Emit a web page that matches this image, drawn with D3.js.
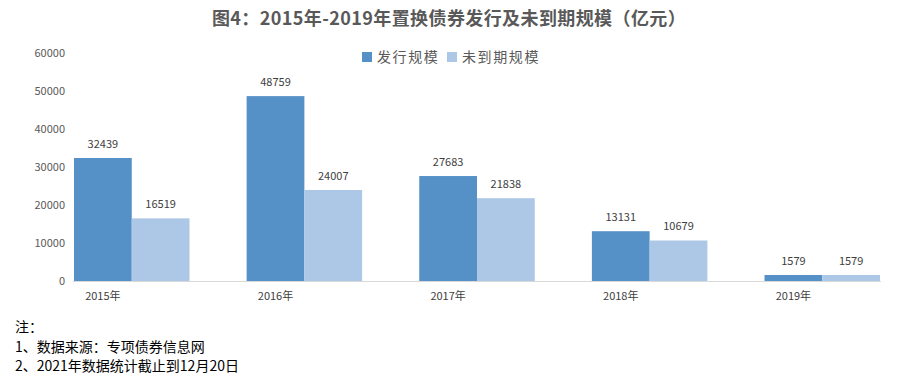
<!DOCTYPE html>
<html><head><meta charset="utf-8">
<script src="https://cdn.jsdelivr.net/npm/d3@7"></script>
<style>body{margin:0;background:#fff}svg{display:block}</style>
</head><body><div id="chart"></div>
<script>
const categories = ["2015年","2016年","2017年","2018年","2019年"];
const issued = [32439, 48759, 27683, 13131, 1579];
const outstanding = [16519, 24007, 21838, 10679, 1579];
const seriesNames = ["发行规模","未到期规模"];
const yTicks = [0,10000,20000,30000,40000,50000,60000];
const title = "图4：2015年-2019年置换债券发行及未到期规模（亿元）";
const notes = ["注：","1、数据来源：专项债券信息网","2、2021年数据统计截止到12月20日"];

const W=904,H=382;
const colors=["#5590c6","#adc7e6"];
const font='"Noto Sans CJK SC","Noto Sans",sans-serif';
const svg=d3.select("#chart").append("svg").attr("width",W).attr("height",H).style("font-family",font);

const y=d3.scaleLinear().domain([0,60000]).range([281,53.5]);
const x0=d3.scaleBand().domain(categories).range([74,880]).paddingInner(0.331).paddingOuter(0);
const x1=d3.scaleBand().domain(seriesNames).range([0,x0.bandwidth()]);

svg.append("text").attr("x",449).attr("y",25).attr("text-anchor","middle")
  .attr("font-size",18).attr("font-weight","bold").attr("letter-spacing",0.4).attr("fill","#595959").text(title);

// y tick labels
svg.append("g").selectAll("text").data(yTicks).join("text")
  .attr("x",65).attr("y",d=>y(d)).attr("dy","0.35em").attr("text-anchor","end")
  .attr("font-size",11).attr("fill","#595959").text(d=>d);

// bars
const data=[issued,outstanding];
const g=svg.append("g");
categories.forEach((c,i)=>{
  seriesNames.forEach((s,j)=>{
    const v=data[j][i];
    g.append("rect").attr("x",x0(c)+x1(s)).attr("y",y(v)).attr("width",x1.bandwidth()).attr("height",y(0)-y(v)).attr("fill",colors[j]);
    g.append("text").attr("x",x0(c)+x1(s)+x1.bandwidth()/2).attr("y",y(v)-14).attr("dy","0.35em")
      .attr("text-anchor","middle").attr("font-size",11).attr("fill","#404040").text(v);
  });
  svg.append("text").attr("x",x0(c)+x1(seriesNames[0])+x1.bandwidth()/2).attr("y",296).attr("dy","0.35em")
    .attr("text-anchor","middle").attr("font-size",11).attr("fill","#404040").text(c);
});

// axis line
svg.append("line").attr("x1",73).attr("x2",881).attr("y1",281.5).attr("y2",281.5).attr("stroke","#d9d9d9").attr("stroke-width",1);

// legend
const leg=[{x:362,tx:377},{x:447,tx:462}];
seriesNames.forEach((s,j)=>{
  svg.append("rect").attr("x",leg[j].x).attr("y",52).attr("width",10).attr("height",10).attr("fill",colors[j]);
  svg.append("text").attr("x",leg[j].tx).attr("y",57).attr("dy","0.35em").attr("font-size",14)
    .attr("letter-spacing",1.6).attr("fill","#595959").text(s);
});

// notes
const ny=[327,347,366];
notes.forEach((t,i)=>{
  svg.append("text").attr("x",15).attr("y",ny[i]).attr("dy","0.35em").attr("font-size",14).attr("fill","#000").text(t);
});
</script></body></html>
